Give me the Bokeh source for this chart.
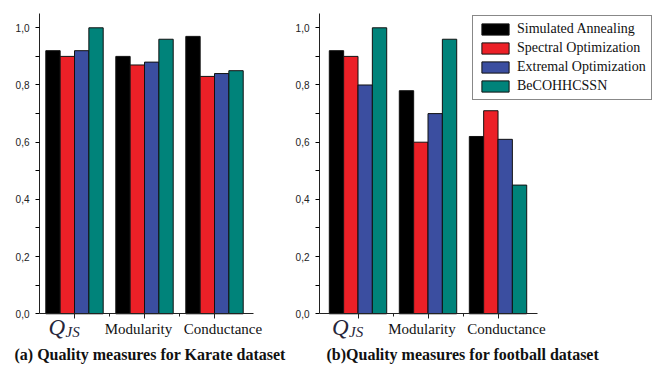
from bokeh.plotting import figure
from bokeh.models import (ColumnDataSource, Legend, LegendItem, CustomJSTickFormatter,
                          Title, FixedTicker, Range1d)
from bokeh.transform import dodge
from bokeh.layouts import row
from bokeh.core.properties import value
from bokeh.embed import file_html
from bokeh.resources import INLINE

categories = ["QJS", "Modularity", "Conductance"]
x_labels = ["Q", "Modularity", "Conductance"]
q_subscript = "JS"
series = ["Simulated Annealing", "Spectral Optimization", "Extremal Optimization", "BeCOHHCSSN"]
colors = ["#000000", "#ec2027", "#3b4ea0", "#00837a"]

karate_sa = [0.92, 0.90, 0.97]
karate_so = [0.90, 0.87, 0.83]
karate_eo = [0.92, 0.88, 0.84]
karate_be = [1.00, 0.96, 0.85]

football_sa = [0.92, 0.78, 0.62]
football_so = [0.90, 0.60, 0.71]
football_eo = [0.80, 0.70, 0.61]
football_be = [1.00, 0.96, 0.45]

y_ticks = [0.0, 0.2, 0.4, 0.6, 0.8, 1.0]
y_minor = [0.1, 0.3, 0.5, 0.7, 0.9]
captions = ["(a) Quality measures for Karate dataset", "(b)Quality measures for football dataset"]

BAR_W = 0.205
offsets = [-1.5 * BAR_W, -0.5 * BAR_W, 0.5 * BAR_W, 1.5 * BAR_W]
SERIF = "Liberation Serif"
centers = [i + 0.5 for i in range(len(categories))]
bounds_x = [float(i) for i in range(len(categories) + 1)]


def make_chart(vals, caption, width, border_left, x_start, x_end, with_legend, cap_offset):
    src = ColumnDataSource(dict(xc=centers, s0=vals[0], s1=vals[1], s2=vals[2], s3=vals[3]))
    p = figure(x_range=Range1d(x_start, x_end), y_range=Range1d(-0.0934, 1.05),
               width=width, height=367, output_backend="svg", toolbar_location=None,
               min_border_left=border_left, min_border_right=0,
               min_border_top=13, min_border_bottom=27)
    renderers = []
    for i, key in enumerate(["s0", "s1", "s2", "s3"]):
        r = p.vbar(x=dodge("xc", offsets[i]), top=key, width=BAR_W, bottom=0,
                   source=src, fill_color=colors[i], line_color="#111111", line_width=1)
        renderers.append(r)
    p.xgrid.visible = False
    p.ygrid.visible = False
    p.outline_line_color = None
    p.background_fill_color = "white"
    p.border_fill_color = "white"

    ya = p.yaxis[0]
    ya.bounds = (0, 1.05)
    ya.ticker = FixedTicker(ticks=y_ticks, minor_ticks=y_minor)
    ya.formatter = CustomJSTickFormatter(code="return tick.toFixed(1).replace('.', ',');")
    ya.major_label_text_font = "Liberation Sans"
    ya.major_label_text_font_size = "10px"
    ya.major_label_text_color = "#222222"
    ya.major_tick_out = 4
    ya.major_tick_in = 0
    ya.minor_tick_out = 4
    ya.minor_tick_in = 0
    ya.major_label_standoff = 6
    ya.axis_line_color = "#222222"

    xa = p.xaxis[0]
    xa.fixed_location = 0
    xa.bounds = (x_start, bounds_x[-1] + 0.06)
    xa.ticker = FixedTicker(ticks=centers, minor_ticks=bounds_x[1:-1])
    xa.formatter = CustomJSTickFormatter(code="return '';")
    xa.major_tick_out = 5
    xa.major_tick_in = 0
    xa.minor_tick_out = 3
    xa.minor_tick_in = 0
    xa.axis_line_color = "#222222"
    xa.major_tick_line_color = "#222222"
    xa.minor_tick_line_color = "#222222"

    # category labels under the axis
    lab_src = ColumnDataSource(dict(x=centers[1:], y=[0] * 2, t=x_labels[1:], dx=[-6, 8.5]))
    p.text(x="x", y="y", text="t", x_offset="dx", y_offset=15, source=lab_src,
           text_font=value(SERIF), text_font_size="15px", text_color="#111111",
           text_align="center", text_baseline="middle")
    p.text(x=[centers[0]], y=[0], text=[x_labels[0]], x_offset=-26, y_offset=14,
           text_font=value(SERIF), text_font_style="italic", text_font_size="23px",
           text_color="#26263a", text_align="left", text_baseline="middle")
    p.text(x=[centers[0]], y=[0], text=[q_subscript], x_offset=-9, y_offset=18,
           text_font=value(SERIF), text_font_style="italic", text_font_size="15px",
           text_color="#26263a", text_align="left", text_baseline="middle")

    t = Title(text=caption, align="left", offset=cap_offset, text_font=SERIF,
              text_font_style="bold", text_font_size="16px", text_color="#111111", standoff=6)
    p.add_layout(t, "below")

    if with_legend:
        items = [LegendItem(label=series[i], renderers=[renderers[i]]) for i in range(4)]
        leg = Legend(items=items, location=(153, 240), glyph_width=34, glyph_height=14,
                     label_height=16, spacing=3, padding=5, margin=0, label_standoff=5,
                     label_text_font=SERIF, label_text_font_size="14px",
                     label_text_color="#111111", border_line_color="#111111",
                     border_line_width=1, background_fill_alpha=1.0)
        p.add_layout(leg)
    return p


p1 = make_chart([karate_sa, karate_so, karate_eo, karate_be], captions[0], 288, 39,
                0.0, 3.557, False, -25)
p2 = make_chart([football_sa, football_so, football_eo, football_be], captions[1], 365, 31,
                -0.05, 4.721, True, 7)

layout = row(p1, p2)
open("out.html", "w").write(file_html(layout, INLINE))
